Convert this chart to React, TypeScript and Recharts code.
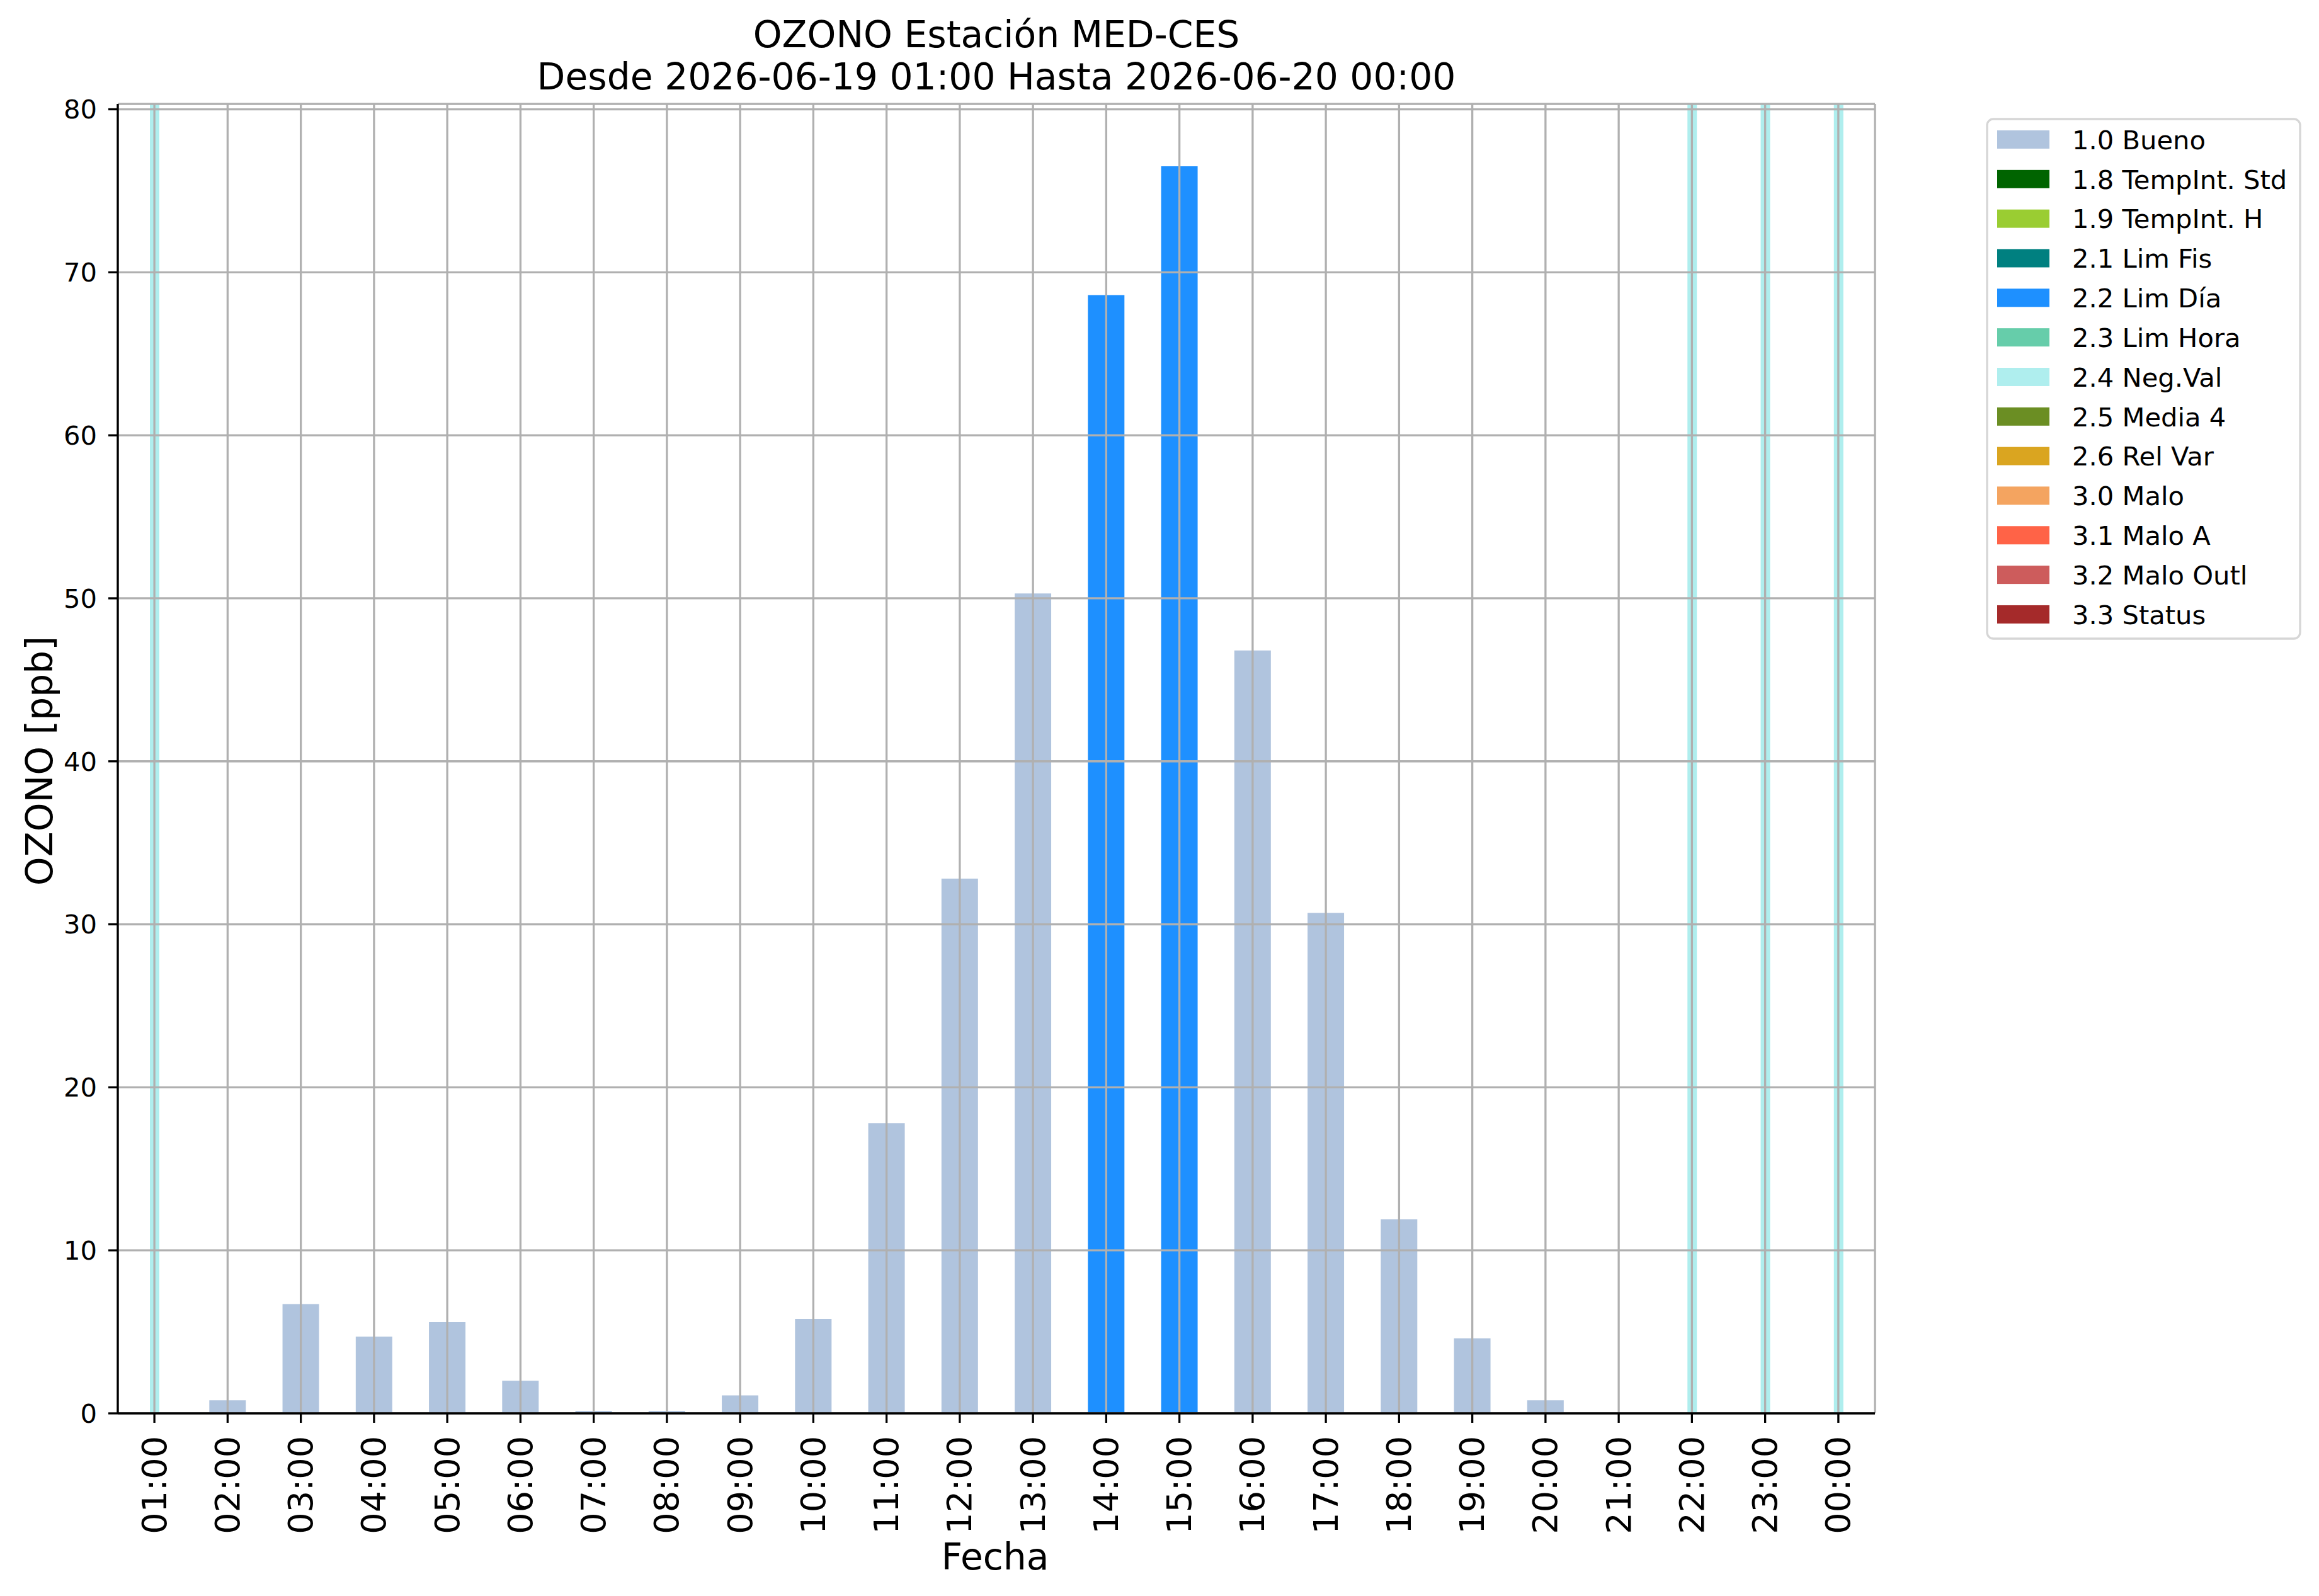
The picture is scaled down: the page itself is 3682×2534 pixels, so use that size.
import { BarChart, Bar, XAxis, YAxis, CartesianGrid } from "recharts"

const HOURS = [
  "01:00", "02:00", "03:00", "04:00", "05:00", "06:00", "07:00", "08:00",
  "09:00", "10:00", "11:00", "12:00", "13:00", "14:00", "15:00", "16:00",
  "17:00", "18:00", "19:00", "20:00", "21:00", "22:00", "23:00", "00:00",
]

// 1.0 Bueno
const BUENO = [
  null, 0.8, 6.7, 4.7, 5.6, 2.0, 0.15, 0.15,
  1.1, 5.8, 17.8, 32.8, 50.3, null, null, 46.8,
  30.7, 11.9, 4.6, 0.8, null, null, null, null,
]

// 2.2 Lim Día
const LIM_DIA = [
  null, null, null, null, null, null, null, null,
  null, null, null, null, null, 68.6, 76.5, null,
  null, null, null, null, null, null, null, null,
]

// 2.4 Neg.Val (drawn full height)
const NEG_VAL = [
  80.33, null, null, null, null, null, null, null,
  null, null, null, null, null, null, null, null,
  null, null, null, null, null, 80.33, 80.33, 80.33,
]

const Y_MAX = 80.33
const Y_TICKS = [0, 10, 20, 30, 40, 50, 60, 70, 80]

const LEGEND_LABELS = [
  "1.0 Bueno", "1.8 TempInt. Std", "1.9 TempInt. H", "2.1 Lim Fis", "2.2 Lim Día",
  "2.3 Lim Hora", "2.4 Neg.Val", "2.5 Media 4", "2.6 Rel Var", "3.0 Malo",
  "3.1 Malo A", "3.2 Malo Outl", "3.3 Status",
]
const LEGEND_COLORS = [
  "#B0C4DE", "#006400", "#9ACD32", "#008080", "#1E90FF",
  "#66CDAA", "#AFEEEE", "#6B8E23", "#DAA520", "#F4A460",
  "#FF6347", "#CD5C5C", "#A52A2A",
]

const FONT = "DejaVu Sans"
const LW = 3.3

const W = 3682
const H = 2534
const MARGIN = { top: 165, right: 705, bottom: 0, left: 0 }

function HourTick({ x, y, payload }: any) {
  return (
    <text
      x={x}
      y={y}
      transform={`rotate(-90 ${x} ${y})`}
      textAnchor="end"
      dominantBaseline="central"
      fontFamily={FONT}
      fontSize={54}
      fill="#000"
    >
      {payload.value}
    </text>
  )
}

// same axes in both layers so the two charts share one layout
function axes(show: boolean) {
  const line = show ? { stroke: "#000", strokeWidth: LW } : false
  return [
    <XAxis
      key="x"
      dataKey="hora"
      height={290}
      interval={0}
      tick={show ? <HourTick /> : false}
      tickSize={15}
      tickMargin={21}
      tickLine={line}
      axisLine={line}
    />,
    <XAxis
      key="xt"
      xAxisId="top"
      dataKey="hora"
      orientation="top"
      height={0}
      tick={false}
      tickLine={false}
      axisLine={line}
    />,
    <YAxis
      key="y"
      type="number"
      width={187}
      domain={[0, Y_MAX]}
      ticks={Y_TICKS}
      interval={0}
      tickSize={15}
      tickMargin={18}
      tick={show ? { fontFamily: FONT, fontSize: 41.67, fill: "#000" } : false}
      tickLine={line}
      axisLine={line}
    />,
    <YAxis
      key="yr"
      yAxisId="right"
      orientation="right"
      type="number"
      width={0}
      domain={[0, Y_MAX]}
      tick={false}
      tickLine={false}
      axisLine={line}
    />,
  ]
}

export default function App() {
  const data = HOURS.map((hora, i) => ({
    hora,
    bueno: BUENO[i],
    limDia: LIM_DIA[i],
    negVal: NEG_VAL[i],
  }))

  return (
    <div style={{ position: "absolute", left: 0, top: 0, width: W, height: H, background: "#fff" }}>
      <div style={{ position: "absolute", left: 0, top: 0 }}>
        <BarChart width={W} height={H} data={data} margin={MARGIN} barCategoryGap="25%">
          {axes(false)}
          <Bar dataKey="bueno" stackId="a" fill={LEGEND_COLORS[0]} isAnimationActive={false} />
          <Bar dataKey="limDia" stackId="a" fill={LEGEND_COLORS[4]} isAnimationActive={false} />
          <Bar dataKey="negVal" xAxisId="top" barSize={15} fill={LEGEND_COLORS[6]} isAnimationActive={false} />
        </BarChart>
      </div>

      {/* grid and spines on top of the bars, like the matplotlib original */}
      <div style={{ position: "absolute", left: 0, top: 0, pointerEvents: "none" }}>
        <BarChart width={W} height={H} data={data} margin={MARGIN} barCategoryGap="25%">
          <CartesianGrid stroke="#b0b0b0" strokeWidth={LW} />
          {axes(true)}
          <Bar dataKey="bueno" fill="none" isAnimationActive={false} />
          <Bar dataKey="negVal" yAxisId="right" fill="none" isAnimationActive={false} />
        </BarChart>
      </div>

      <svg
        width={W}
        height={H}
        style={{ position: "absolute", left: 0, top: 0, pointerEvents: "none" }}
      >
        <g fontFamily={FONT} fill="#000" fontSize={58.3} textAnchor="middle">
          <text x={1582} y={75}>OZONO Estación MED-CES</text>
          <text x={1582} y={142}>Desde 2026-06-19 01:00 Hasta 2026-06-20 00:00</text>
          <text x={1580} y={2492}>Fecha</text>
          <text x={83} y={1208} transform="rotate(-90 83 1208)">OZONO [ppb]</text>
        </g>
        <rect
          x={3155}
          y={189}
          width={497}
          height={825}
          rx={10}
          fill="#fff"
          stroke="#d6d6d6"
          strokeWidth={LW}
        />
        {LEGEND_LABELS.map((label, i) => {
          const cy = 221.5 + i * 62.83
          return (
            <g key={label}>
              <rect x={3171} y={cy - 14.5} width={83} height={29} fill={LEGEND_COLORS[i]} />
              <text x={3290} y={cy + 15.2} fontFamily={FONT} fontSize={41.67} fill="#000">
                {label}
              </text>
            </g>
          )
        })}
      </svg>
    </div>
  )
}
